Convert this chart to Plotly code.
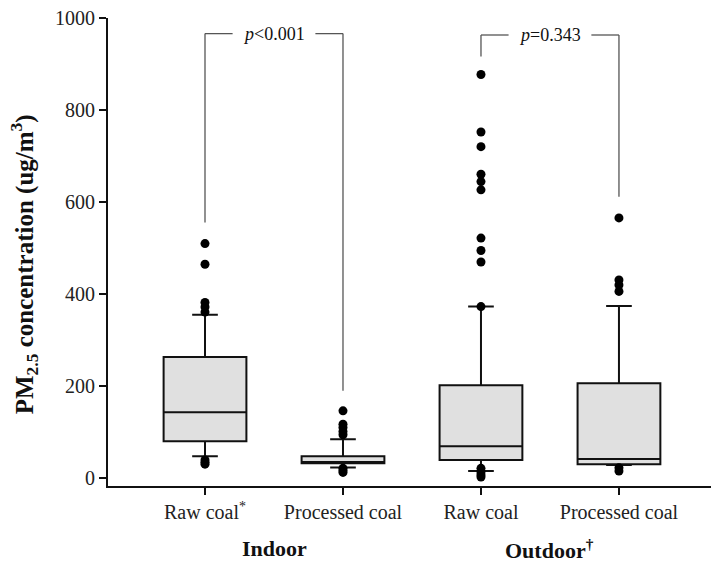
import plotly.graph_objects as go

# ---- data ----
categories = ["Raw coal<sup>*</sup>", "Processed coal", "Raw coal", "Processed coal"]
positions = [1, 2, 3, 4]
groups = ["Indoor", "Outdoor<sup>†</sup>"]
group_pos = [1.5, 3.5]

q1 = [79, 31, 38, 29]
median = [142, 34, 68, 40]
q3 = [262, 46, 201, 205]
lower_fence = [46, 22, 14, 27]
upper_fence = [354, 83, 372, 373]

outliers = [
    [509, 464, 381, 371, 360, 38, 33, 29],
    [145, 116, 109, 100, 93, 20, 15, 11],
    [877, 752, 720, 660, 644, 626, 521, 494, 469, 372, 20, 12, 6, 1],
    [565, 430, 419, 405, 21, 14],
]

# brackets: (left x, right x, left bottom y, right bottom y, top y, label)
brackets = [
    (1, 2, 555, 189, 966, "<i>p</i><0.001"),
    (3, 4, 916, 611, 963, "<i>p</i>=0.343"),
]

yticks = [0, 200, 400, 600, 800, 1000]

FONT = "Liberation Serif, Times New Roman, serif"

fig = go.Figure()
for i, p in enumerate(positions):
    fig.add_trace(go.Box(
        x=[p], q1=[q1[i]], median=[median[i]], q3=[q3[i]],
        lowerfence=[lower_fence[i]], upperfence=[upper_fence[i]],
        width=0.6, whiskerwidth=0.31, boxpoints=False,
        fillcolor="#e0e0e0", line=dict(color="#111111", width=2),
        showlegend=False, hoverinfo="skip",
    ))
    fig.add_trace(go.Scatter(
        x=[p] * len(outliers[i]), y=outliers[i], mode="markers",
        marker=dict(color="black", size=9), showlegend=False, hoverinfo="skip",
    ))

gap = 0.2
for (xl, xr, yl, yr, yt, label) in brackets:
    lc = dict(color="#555555", width=1.3)
    fig.add_shape(type="line", x0=xl, x1=xl, y0=yl, y1=yt, line=lc)
    fig.add_shape(type="line", x0=xl, x1=xl + gap, y0=yt, y1=yt, line=lc)
    fig.add_shape(type="line", x0=xr - gap, x1=xr, y0=yt, y1=yt, line=lc)
    fig.add_shape(type="line", x0=xr, x1=xr, y0=yr, y1=yt, line=lc)
    fig.add_annotation(x=(xl + xr) / 2, y=yt, text=label, showarrow=False,
                       xanchor="center", yanchor="middle",
                       font=dict(family=FONT, size=18, color="#111111"))

for g, gp in zip(groups, group_pos):
    fig.add_annotation(x=gp, xref="x", y=-0.134, yref="paper", text="<b>%s</b>" % g,
                       showarrow=False, xanchor="center", yanchor="middle",
                       font=dict(family=FONT, size=22, color="#111111"))

fig.add_annotation(x=-0.139, xref="paper", y=0.474, yref="paper",
                   text="<b>PM<sub>2.5</sub> concentration (ug/m<sup>3</sup>)</b>",
                   textangle=-90, showarrow=False, xanchor="center", yanchor="middle",
                   font=dict(family=FONT, size=25, color="#111111"))

fig.update_layout(
    width=711, height=561,
    margin=dict(l=108, r=0, t=18, b=75),
    paper_bgcolor="white", plot_bgcolor="white",
    font=dict(family=FONT, size=20, color="#222222"),
    xaxis=dict(range=[0.297, 4.667], tickvals=positions, ticktext=categories,
               showline=True, linecolor="#111111", linewidth=2,
               ticks="outside", ticklen=7, tickwidth=1.5, tickcolor="#111111",
               showgrid=False, zeroline=False, fixedrange=True),
    yaxis=dict(range=[-18.5, 1000], tickvals=yticks,
               showline=True, linecolor="#111111", linewidth=2,
               ticks="outside", ticklen=7, tickwidth=1.5, tickcolor="#111111",
               showgrid=False, zeroline=False, fixedrange=True),
)

fig.write_html("out.html", config={"displayModeBar": False},
               post_script="document.body.style.margin='0';")
